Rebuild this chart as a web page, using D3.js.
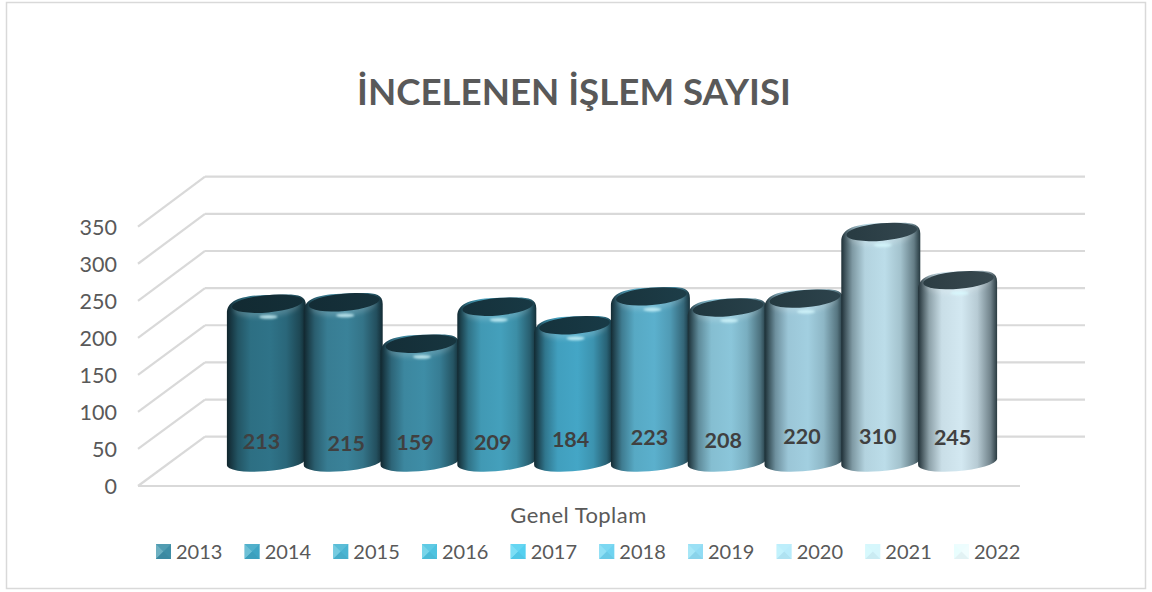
<!DOCTYPE html>
<html>
<head>
<meta charset="utf-8">
<script src="https://d3js.org/d3.v7.min.js"></script>
<style>
  html, body { margin: 0; background: #fff; }
  text { font-family: Lato, "Open Sans", sans-serif; }
</style>
</head>
<body>
<div id="chart-area"></div>
<script>
// data
var years = ["2013", "2014", "2015", "2016", "2017", "2018", "2019", "2020", "2021", "2022"];
var values = [213, 215, 159, 209, 184, 223, 208, 220, 310, 245];
var yTicks = [0, 50, 100, 150, 200, 250, 300, 350];
var barColors = ["#2f7388", "#3a8299", "#3e8da6", "#44a0bc", "#44a6c6", "#5bb0cd", "#8bc6da", "#a2cfe0", "#bcdde9", "#d3e8f1"];
var legendColors = ["#3f8ea6", "#3fa5c4", "#4ab4d2", "#4fc3e0", "#55d0f0", "#70d3f0", "#92dcf4", "#b9ecfb", "#d6f6fc", "#f0fdfe"];

// hand placed label nudges (px), the labels sit off centre in the original
var labelDx = [-5, 3, -5, -4, -3, -1, -4, -2, -3, -5];
var labelDy = [0, 2, 1, 1, -2, -4, -1, -5, -5, -4];

var width = 1152;
var height = 592;

// Canvas
var svg = d3.select("#chart-area")
  .append("svg")
  .attr("width", width)
  .attr("height", height)
  .style("display", "block");

var defs = svg.append("defs");

svg.append("rect")
  .attr("x", 6.5).attr("y", 2.5)
  .attr("width", 1139).attr("height", 586)
  .attr("fill", "#fff")
  .attr("stroke", "#d9d9d9")
  .attr("stroke-width", 1.5);

svg.append("text")
  .attr("x", 574).attr("y", 105)
  .attr("text-anchor", "middle")
  .attr("font-size", 36.7)
  .attr("font-weight", 700)
  .attr("fill", "#595959")
  .text("İNCELENEN İŞLEM SAYISI");

// Scales: the floor front edge, the back wall and the bars each have their own range
var yFront = d3.scaleLinear().domain([0, 350]).range([486, 226.7]);
var yBack = d3.scaleLinear().domain([0, 350]).range([436.7, 176.7]);
var yBar = d3.scaleLinear().domain([0, 350]).range([462, 203]);
var x = d3.scaleBand().domain(years).range([228, 996]).paddingInner(0).paddingOuter(0);

var barW = 79;
var rx = 39;
var ry = 9;
var tilt = -5;

// Gridlines
var grid = svg.append("g")
  .attr("fill", "none")
  .attr("stroke", "#d9d9d9")
  .attr("stroke-width", 2.2);

grid.selectAll("line.back")
  .data(yTicks)
  .enter()
  .append("line")
  .attr("class", "back")
  .attr("x1", 205).attr("x2", 1085)
  .attr("y1", function(d) { return yBack(d); })
  .attr("y2", function(d) { return yBack(d); });

grid.selectAll("line.side")
  .data(yTicks)
  .enter()
  .append("line")
  .attr("class", "side")
  .attr("x1", 138).attr("x2", 205)
  .attr("y1", function(d) { return yFront(d); })
  .attr("y2", function(d) { return yBack(d); });

grid.append("line")
  .attr("x1", 138).attr("x2", 1020)
  .attr("y1", yFront(0)).attr("y2", yFront(0));

// Y axis
var axis = svg.append("g")
  .attr("transform", "translate(117,1)")
  .call(d3.axisLeft(yFront).tickValues(yTicks).tickSize(0).tickPadding(0));
axis.select(".domain").remove();
axis.selectAll("text")
  .attr("font-size", 21.5)
  .attr("font-family", "Lato, 'Open Sans', sans-serif")
  .attr("fill", "#595959");

// Bars, drawn left to right so each one overlaps its left neighbour
var blur = defs.append("filter").attr("id", "soft")
  .attr("x", "-30%").attr("y", "-100%").attr("width", "160%").attr("height", "300%");
blur.append("feGaussianBlur").attr("stdDeviation", 1.1);

var blurWide = defs.append("filter").attr("id", "softWide")
  .attr("x", "-30%").attr("y", "-100%").attr("width", "160%").attr("height", "300%");
blurWide.append("feGaussianBlur").attr("stdDeviation", 2);

var edge = "#0c1c22";
barColors.forEach(function(c, i) {
  var body = defs.append("linearGradient").attr("id", "body" + i);
  [[0, 0.9], [0.05, 0.7], [0.14, 0.35], [0.3, 0.05], [0.55, 0], [0.75, 0.14], [0.92, 0.5], [1, 0.85]].forEach(function(s) {
    body.append("stop")
      .attr("offset", s[0])
      .attr("stop-color", d3.interpolateRgb(c, edge)(s[1]));
  });
  var top = defs.append("linearGradient").attr("id", "top" + i);
  top.append("stop").attr("offset", 0).attr("stop-color", d3.interpolateRgb(c, edge)(0.84));
  top.append("stop").attr("offset", 1).attr("stop-color", d3.interpolateRgb(c, edge)(0.78));
});

var bars = svg.selectAll("g.bar")
  .data(years)
  .enter()
  .append("g")
  .attr("class", "bar")
  .attr("transform", function(d) {
    return "translate(" + (x(d) + x.bandwidth() / 2) + ",0)";
  });

bars.append("path")
  .attr("fill", function(d, i) { return "url(#body" + i + ")"; })
  .attr("d", function(d, i) {
    var top = yBar(values[i]);
    var h = barW / 2;
    return "M" + (-h) + "," + (yBar(0) + 3)
      + "L" + (-h) + "," + (top + 9)
      + "C" + (-h) + "," + (top - 4) + " " + (-26) + "," + (top - 9) + " " + 3 + "," + (top - 9.5)
      + "C" + 26 + "," + (top - 10) + " " + h + "," + (top - 12) + " " + h + "," + (top + 1)
      + "L" + h + "," + (yBar(0) - 3)
      + "A" + rx + "," + ry + " " + tilt + " 0 1 " + (-h) + "," + (yBar(0) + 3)
      + "Z";
  });

// lighter bevel band around the lid
bars.append("ellipse")
  .attr("rx", 33)
  .attr("ry", 10)
  .attr("cy", function(d, i) { return yBar(values[i]) + 3; })
  .attr("fill", "#fff")
  .attr("opacity", 0.16)
  .attr("filter", "url(#softWide)")
  .attr("transform", function(d, i) { return "rotate(" + tilt + " 0 " + yBar(values[i]) + ")"; });

bars.append("ellipse")
  .attr("cx", 1)
  .attr("rx", 35.5)
  .attr("ry", 8.7)
  .attr("cy", function(d, i) { return yBar(values[i]) - 0.5; })
  .attr("fill", function(d, i) { return "url(#top" + i + ")"; })
  .attr("transform", function(d, i) { return "rotate(" + tilt + " 0 " + yBar(values[i]) + ")"; });

// small highlight under the lid
bars.append("ellipse")
  .attr("cx", 2)
  .attr("rx", 9)
  .attr("ry", 1.9)
  .attr("cy", function(d, i) { return yBar(values[i]) + 12.5; })
  .attr("fill", "#d8fbff")
  .attr("opacity", 0.75)
  .attr("filter", "url(#soft)");

// Value labels
svg.selectAll("text.value")
  .data(years)
  .enter()
  .append("text")
  .attr("class", "value")
  .attr("x", function(d, i) { return x(d) + x.bandwidth() / 2 + labelDx[i]; })
  .attr("y", function(d, i) { return 449 + labelDy[i]; })
  .attr("text-anchor", "middle")
  .attr("font-size", 21.5)
  .attr("font-weight", 700)
  .attr("fill", "#404040")
  .text(function(d, i) { return values[i]; });

svg.append("text")
  .attr("x", 578.5).attr("y", 523)
  .attr("text-anchor", "middle")
  .attr("font-size", 22)
  .attr("letter-spacing", 0.45)
  .attr("fill", "#595959")
  .text("Genel Toplam");

// Legend
var legendX = d3.scalePoint().domain(years).range([156, 954]);

var legend = svg.selectAll("g.legend")
  .data(years)
  .enter()
  .append("g")
  .attr("class", "legend")
  .attr("transform", function(d) { return "translate(" + legendX(d) + ",544)"; });

legend.append("rect")
  .attr("width", 15).attr("height", 15)
  .attr("fill", function(d, i) { return legendColors[i]; });

var s = 15;
var pyramid = [
  { pts: [[0, 0], [s, 0], [s / 2, s / 2]], light: 0.12 },
  { pts: [[0, 0], [0, s], [s / 2, s / 2]], light: 0.3 },
  { pts: [[0, s], [s, s], [s / 2, s / 2]], light: -0.06 }
];
pyramid.forEach(function(f) {
  legend.append("polygon")
    .attr("points", f.pts.join(" "))
    .attr("fill", function(d, i) {
      var c = legendColors[i];
      return f.light > 0 ? d3.interpolateRgb(c, "#d8ffff")(f.light) : d3.interpolateRgb(c, "#0c4050")(-f.light);
    });
});

legend.append("text")
  .attr("x", 20)
  .attr("y", 15)
  .attr("font-size", 20)
  .attr("fill", "#595959")
  .text(function(d) { return d; });
</script>
</body>
</html>
